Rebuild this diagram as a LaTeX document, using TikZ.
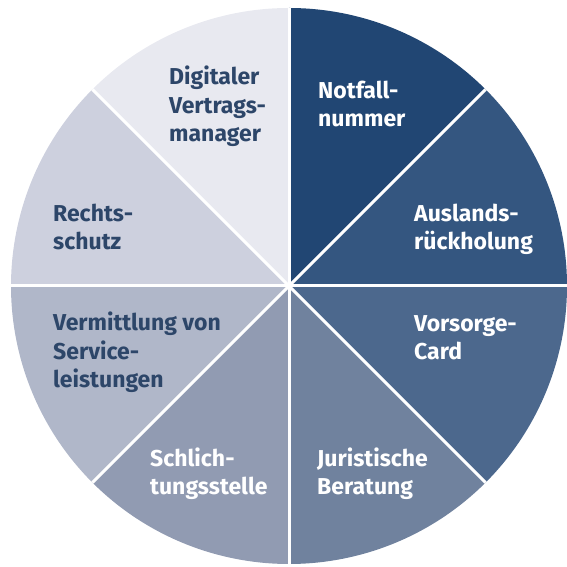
\documentclass[tikz,border=0pt]{standalone}
\usepackage{fontspec}
\setmainfont{Fira Sans}
\usepackage{tikz}
\definecolor{secNotfall}{RGB}{33,70,115}
\definecolor{secAusland}{RGB}{52,86,128}
\definecolor{secVorsorge}{RGB}{76,104,141}
\definecolor{secJura}{RGB}{112,130,158}
\definecolor{secSchlicht}{RGB}{145,155,178}
\definecolor{secVermitt}{RGB}{176,183,201}
\definecolor{secRecht}{RGB}{205,208,222}
\definecolor{secDigital}{RGB}{232,233,240}
\definecolor{txtDark}{RGB}{45,70,105}
\tikzstyle{divider} = [white, line width=3pt]
\tikzstyle{darktext} = [anchor=base west, align=left, inner sep=0pt, text=txtDark, font=\bfseries\fontsize{23}{28.5}\selectfont]
\tikzstyle{whitetext} = [darktext, text=white]
\def\rad{278pt}

\begin{document}
\begin{tikzpicture}[x=1pt,y=1pt]
\useasboundingbox (0,0) rectangle (566,567);
\coordinate (m) at (289,281);

% sectors, clockwise from the top
\foreach \a/\c in {90/secNotfall, 45/secAusland, 0/secVorsorge, -45/secJura, -90/secSchlicht, -135/secVermitt, 180/secRecht, 135/secDigital}
  \fill[\c] (m) -- ++(\a:\rad) arc (\a:\a-45:\rad) -- cycle;
\foreach \a in {0,45,...,315}
  \draw[divider] (m) -- ++(\a:\rad);

% text blocks, placed at the baseline of their last line
\node (digital) [darktext] at (169,425) {Digitaler\\Vertrags-\\manager};
\node (notfall) [whitetext] at (318,440) {Notfall-\\nummer};
\node (recht) [darktext] at (53,317) {Rechts-\\schutz};
\node (ausland) [whitetext] at (414,317) {Auslands-\\rückholung};
\node (vermitt) [darktext] at (53,179) {Vermittlung von\\Service-\\leistungen};
\node (vorsorge) [whitetext] at (414,207) {Vorsorge-\\Card};
\node (schlicht) [whitetext] at (150,72) {Schlich-\\tungsstelle};
\node (jura) [whitetext] at (317,72) {Juristische\\Beratung};
\end{tikzpicture}
\end{document}
